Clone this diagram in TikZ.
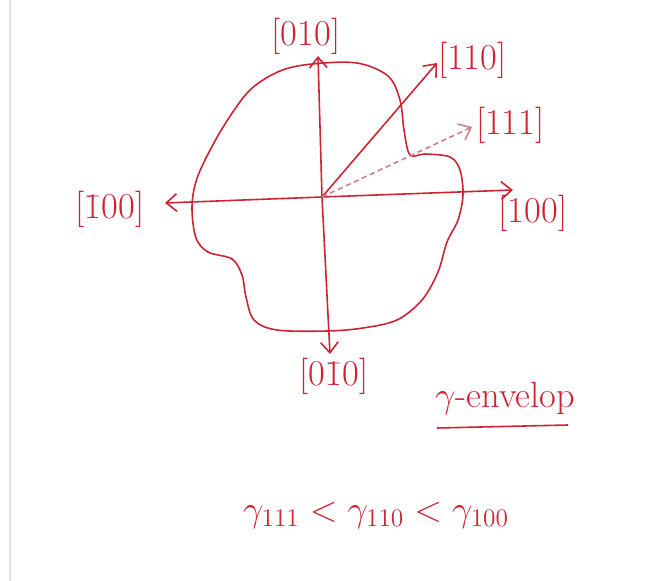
\documentclass[tikz,border=0pt]{standalone}
\usepackage{amsmath, amssymb}
\usepackage{xcolor}
\usepackage{tikz}
\usetikzlibrary{arrows.meta}
\definecolor{inkred}{RGB}{205, 35, 50}
\definecolor{inkgrey}{RGB}{200, 130, 140}
\definecolor{edgegrey}{gray}{0.88}
\tikzset{
  axisarrow/.style={inkred, line width=0.9pt, -{Straight Barb[length=6pt,width=10pt]}},
  dirlabel/.style={inkred, font=\huge, inner sep=1pt}
}

\begin{document}
\begin{tikzpicture}[x=0.02cm, y=-0.02cm]
		\useasboundingbox (0,0) rectangle (664,581);
		\fill[white] (0,0) rectangle (664,581);
		\draw[edgegrey, line width=0.6pt] (10,0) -- (10,581);
		
		% gamma envelope
		\draw[inkred, line width=0.9pt] plot[smooth cycle, tension=0.55] coordinates {
			(312,64) (357,63) (388,76) (400,100) (404,130) (410,155)
			(425,154) (450,157) (460,170) (463,195) (458,220) (447,242)
			(438,272) (422,300) (397,320) (363,328) (327,331) (277,330)
			(254,320) (246,297) (242,275) (232,259) (208,252) (196,238)
			(192,210) (195,185) (205,160) (225,124) (250,90) (280,71)};
		
		% axes
		\coordinate (O) at (322,197);
		\coordinate (e010) at (318,56);
		\coordinate (e0b0) at (330,354);
		\coordinate (eb00) at (165,203);
		\coordinate (e100) at (513,190);
		\coordinate (e110) at (437,63);
		\coordinate (e111) at (472,127);
		
		\draw[axisarrow] (O) -- (e010);
		\draw[axisarrow] (O) -- (e0b0);
		\draw[axisarrow] (O) -- (eb00);
		\draw[axisarrow] (O) -- (e100);
		\draw[axisarrow] (O) -- (e110);
		\draw[axisarrow, inkgrey, densely dashed] (O) -- (e111);
		
		\node[dirlabel] (l010) at (306,36) {[010]};
		\node[dirlabel] (l0b0) at (334,376) {[0\={1}0]};
		\node[dirlabel] (lb00) at (110,209) {[\={1}00]};
		\node[dirlabel] (l100) at (533,213) {[100]};
		\node[dirlabel, anchor=west] (l110) at (436,60) {[110]};
		\node[dirlabel, anchor=west] (l111) at (474,125) {[111]};
		
		% legend text
		\node[inkred, font=\huge] (title) at (505,398) {$\gamma$-envelop};
		\draw[inkred, line width=0.9pt] (437,428) -- (568,425);
		\node[inkred, font=\huge] (order) at (376,515) {$\gamma_{111} < \gamma_{110} < \gamma_{100}$};
	\end{tikzpicture}
\end{document}
